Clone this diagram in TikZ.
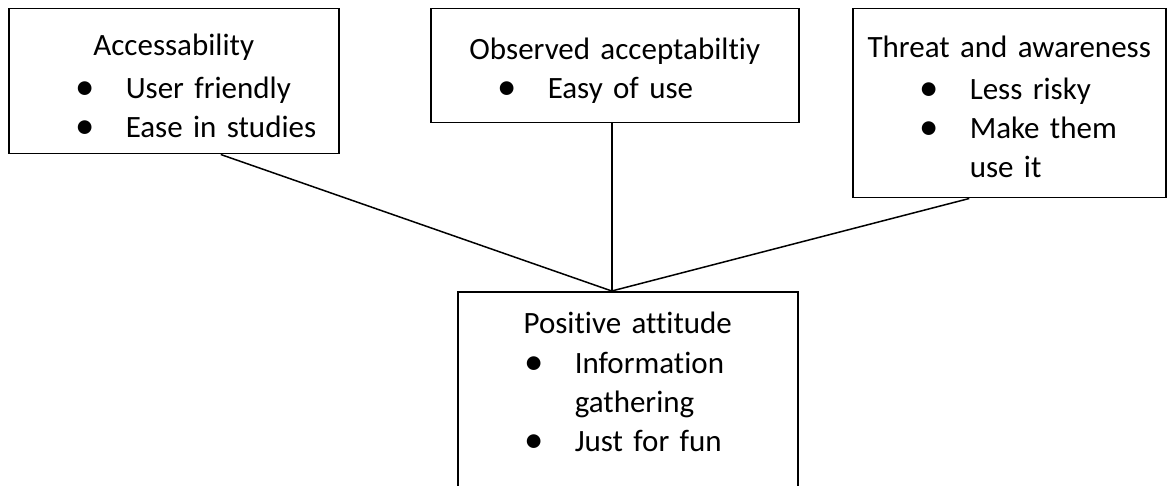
\documentclass[tikz,border=0pt]{standalone}
\usepackage{fontspec}
\setmainfont{Carlito}[Ligatures=NoCommon,WordSpace=0.85]
\usepackage{tikz}
\tikzstyle{box} = [rectangle, draw, inner sep=0pt, anchor=north west]
\tikzstyle{txt} = [inner sep=0pt, align=center, anchor=base west, font=\fontsize{31}{39}\selectfont]
\newcommand{\itm}[1]{\makebox[\linewidth][l]{\hspace*{76pt}\makebox[0pt]{\raisebox{-1pt}{\scalebox{1.25}{\textbullet}}}\hspace*{41pt}#1}}
\newcommand{\itmcont}[1]{\makebox[\linewidth][l]{\hspace*{117pt}#1}}

\begin{document}
\begin{tikzpicture}[x=1pt,y=-1pt,line width=1.5pt]
  \useasboundingbox (0,0) rectangle (1169,486);
  \clip (0,0) rectangle (1169,486);
  \node[box, minimum width=330pt, minimum height=145pt] (acc) at (8,8) {};
  \node[box, minimum width=368pt, minimum height=114pt] (obs) at (430,8) {};
  \node[box, minimum width=313pt, minimum height=189pt] (thr) at (852,8) {};
  \node[box, minimum width=340pt, minimum height=230pt] (pos) at (457,291) {};

  \node[txt, text width=330pt] (acctxt) at ([yshift=-48pt]acc.north west)
    {Accessability\\[4pt] \itm{User friendly}\\ \itm{Ease in studies}};
  \node[txt, text width=368pt] (obstxt) at ([yshift=-52pt]obs.north west)
    {Observed acceptabiltiy\\ \itm{Easy of use}};
  \node[txt, text width=313pt] (thrtxt) at ([yshift=-50pt]thr.north west)
    {Threat and awareness\\[3pt] \itm{Less risky}\\ \itm{Make them}\\ \itmcont{use it}};
  \node[txt, text width=340pt] (postxt) at ([yshift=-42pt]pos.north west)
    {Positive attitude\\[1pt] \itm{Information}\\ \itmcont{gathering}\\ \itm{Just for fun}};

  \coordinate (meet) at ([xshift=-16pt]pos.north);
  \draw ([xshift=47pt]acc.south) -- (meet);
  \draw ([xshift=-3pt]obs.south) -- (meet);
  \draw ([xshift=-40pt]thr.south) -- (meet);
\end{tikzpicture}
\end{document}
